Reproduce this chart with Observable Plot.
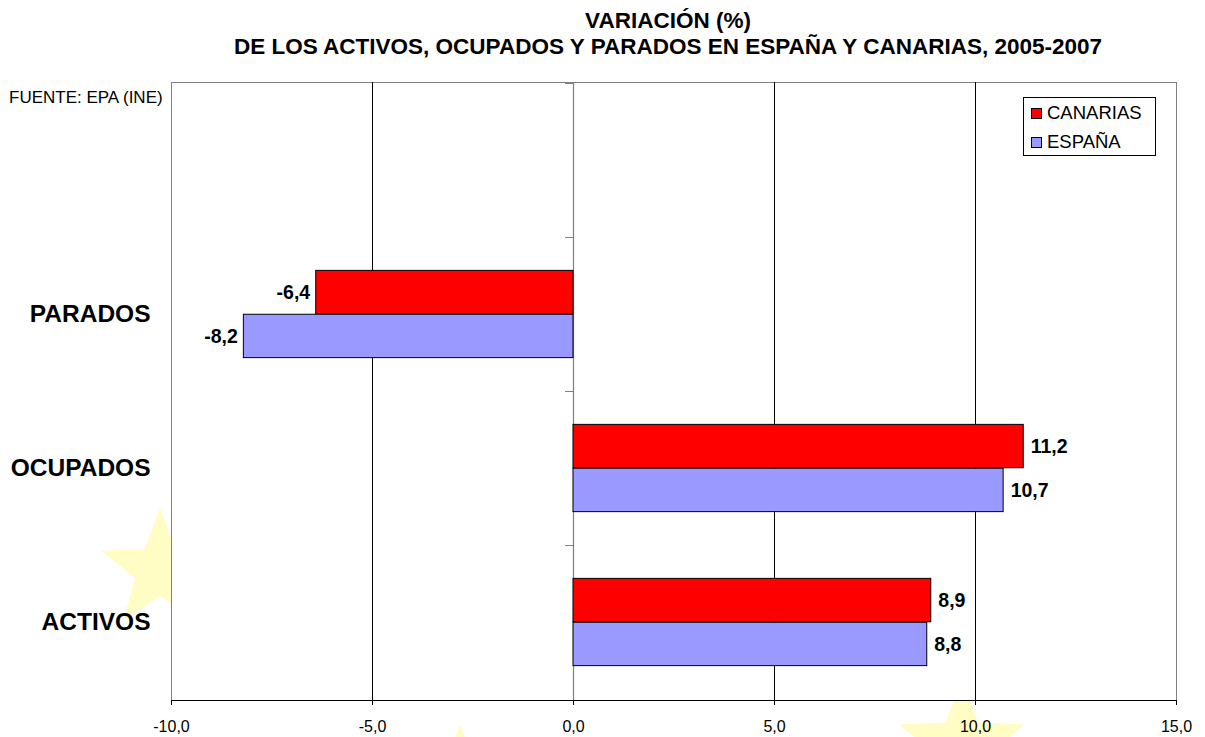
<!DOCTYPE html>
<html>
<head>
<meta charset="utf-8">
<script src="https://cdn.jsdelivr.net/npm/d3@7"></script>
<script src="https://cdn.jsdelivr.net/npm/@observablehq/plot@0.6"></script>
<style>
  html, body { margin: 0; padding: 0; background: #fff; }
  #wrap { position: relative; width: 1205px; height: 737px; overflow: hidden; font-family: "Liberation Sans", Arial, sans-serif; color: #000; }
  #wrap svg { position: absolute; left: 0; top: 0; }
  .title { position: absolute; left: 0; width: 1336px; text-align: center; font-weight: bold; font-size: 22.5px; line-height: 26px; white-space: nowrap; }
  #source { position: absolute; left: 9px; top: 88px; font-size: 17px; line-height: 20px; white-space: nowrap; }
  #legendBox { position: absolute; left: 1023px; top: 97px; width: 131px; height: 57px; border: 1px solid #000; background: #fff; }
  .sw { position: absolute; width: 9px; height: 9px; border: 1px solid #000; }
  .lt { position: absolute; font-size: 18.5px; line-height: 21px; white-space: nowrap; }
</style>
</head>
<body>
<div id="wrap">
  <div class="title" style="top:8px">VARIACIÓN (%)</div>
  <div class="title" style="top:34px">DE LOS ACTIVOS, OCUPADOS Y PARADOS EN ESPAÑA Y CANARIAS, 2005-2007</div>
  <div id="source">FUENTE: EPA (INE)</div>
</div>
<script>
const categories = ["", "PARADOS", "OCUPADOS", "ACTIVOS"];
const seriesNames = ["CANARIAS", "ESPAÑA"];
const seriesColors = ["#FF0000", "#9999FF"];
const canarias = [null, -6.4, 11.2, 8.9];
const espana = [null, -8.2, 10.7, 8.8];
const xTicks = [-10, -5, 0, 5, 10, 15];
const gridTicks = [-5, 5, 10];

const W = 1205, H = 737, mL = 171, mR = 29, mT = 82, mB = 37;
const bw = (H - mT - mB) / categories.length;
const outer = bw * 0.216;
const barH = (bw - 2 * outer) / 2;

const rows = [];
categories.forEach((c, i) => {
  if (canarias[i] != null) rows.push({category: c, series: seriesNames[0], value: canarias[i]});
  if (espana[i] != null) rows.push({category: c, series: seriesNames[1], value: espana[i]});
});
const can = rows.filter(d => d.series === seriesNames[0]);
const esp = rows.filter(d => d.series === seriesNames[1]);
const fmt = v => v.toFixed(1).replace(".", ",");
const labelStyle = {x: "value", y: "category", text: d => fmt(d.value), fontWeight: "bold", fontSize: 19.5, fill: "#000"};

// decorative faint background stars (not data)
const wrap = document.getElementById("wrap");
const bg = d3.create("svg").attr("width", W).attr("height", H);
const starPath = (cx, cy, R) => {
  const r = R * 0.42, pts = [];
  for (let k = 0; k < 10; k++) {
    const a = -Math.PI / 2 + k * Math.PI / 5, rr = k % 2 ? r : R;
    pts.push([cx + rr * Math.cos(a), cy + rr * Math.sin(a)]);
  }
  return "M" + pts.map(p => p.join(",")).join("L") + "Z";
};
[[160, 570, 62], [460, 795, 70], [962, 745, 66]].forEach(([cx, cy, R]) =>
  bg.append("path").attr("d", starPath(cx, cy, R)).attr("fill", "#FFFCC4"));
wrap.insertBefore(bg.node(), wrap.firstChild);

const chart = Plot.plot({
  width: W, height: H,
  marginLeft: mL, marginRight: mR, marginTop: mT, marginBottom: mB,
  style: {fontFamily: "'Liberation Sans', Arial, sans-serif", background: "transparent", color: "#000"},
  x: {domain: [-10, 15]},
  y: {domain: categories, padding: 0},
  color: {domain: seriesNames, range: seriesColors},
  marks: [
    Plot.frame({fill: "#fff", stroke: "#808080"}),
    Plot.ruleX(gridTicks, {stroke: "#000", strokeWidth: 1}),
    Plot.ruleX([0], {stroke: "#808080", strokeWidth: 1.2}),
    Plot.barX(categories, {y: d => d, x1: 0, x2: 0, insetLeft: -8, insetBottom: bw - 1, fill: "#000"}),
    Plot.barX(can, {x: "value", y: "category", fill: "series", stroke: "#000", strokeWidth: 1, insetTop: outer, insetBottom: outer + barH}),
    Plot.barX(esp, {x: "value", y: "category", fill: "series", stroke: "#000", strokeWidth: 1, insetTop: outer + barH, insetBottom: outer}),
    Plot.text(can.filter(d => d.value >= 0), {...labelStyle, dy: -barH / 2, dx: 7, textAnchor: "start"}),
    Plot.text(can.filter(d => d.value < 0), {...labelStyle, dy: -barH / 2, dx: -6, textAnchor: "end"}),
    Plot.text(esp.filter(d => d.value >= 0), {...labelStyle, dy: barH / 2, dx: 7, textAnchor: "start"}),
    Plot.text(esp.filter(d => d.value < 0), {...labelStyle, dy: barH / 2, dx: -6, textAnchor: "end"}),
    Plot.frame({anchor: "bottom", stroke: "#000"}),
    Plot.axisX({ticks: xTicks, tickFormat: fmt, tickSize: 5, tickPadding: 15, fontSize: 16, label: null}),
    Plot.axisY({tickSize: 0, tickPadding: 21, fontSize: 24.5, fontWeight: "bold", label: null})
  ]
});
wrap.insertBefore(chart, bg.node().nextSibling);

const legend = document.createElement("div");
legend.id = "legendBox";
wrap.appendChild(legend);
seriesNames.forEach((s, i) => {
  const sw = document.createElement("div");
  sw.className = "sw";
  sw.style.left = "1031px";
  sw.style.top = (108 + i * 29) + "px";
  sw.style.background = seriesColors[i];
  wrap.appendChild(sw);
  const t = document.createElement("div");
  t.className = "lt";
  t.textContent = s;
  t.style.left = "1047px";
  t.style.top = (102 + i * 29) + "px";
  wrap.appendChild(t);
});
</script>
</body>
</html>
